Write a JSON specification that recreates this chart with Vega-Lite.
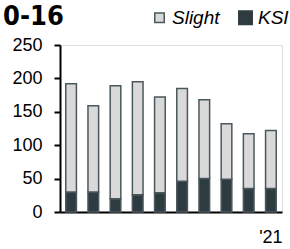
{
  "$schema": "https://vega.github.io/schema/vega-lite/v6.json",
  "width": 222,
  "height": 167,
  "autosize": {"type": "none"},
  "padding": {"left": 60, "top": 45, "right": 8, "bottom": 37},
  "background": "white",
  "title": {
    "text": "0-16",
    "anchor": "start",
    "frame": "group",
    "dx": -57,
    "offset": -44,
    "baseline": "alphabetic",
    "font": "DejaVu Sans Condensed",
    "fontWeight": "bold",
    "fontSize": 27,
    "color": "#000000"
  },
  "data": {
    "values": [
      {"year": 2012, "type": "KSI", "value": 30}, {"year": 2012, "type": "Slight", "value": 162},
      {"year": 2013, "type": "KSI", "value": 30}, {"year": 2013, "type": "Slight", "value": 129},
      {"year": 2014, "type": "KSI", "value": 20}, {"year": 2014, "type": "Slight", "value": 169},
      {"year": 2015, "type": "KSI", "value": 26}, {"year": 2015, "type": "Slight", "value": 169},
      {"year": 2016, "type": "KSI", "value": 29}, {"year": 2016, "type": "Slight", "value": 143},
      {"year": 2017, "type": "KSI", "value": 46}, {"year": 2017, "type": "Slight", "value": 139},
      {"year": 2018, "type": "KSI", "value": 50}, {"year": 2018, "type": "Slight", "value": 118},
      {"year": 2019, "type": "KSI", "value": 49}, {"year": 2019, "type": "Slight", "value": 83},
      {"year": 2020, "type": "KSI", "value": 35}, {"year": 2020, "type": "Slight", "value": 82},
      {"year": 2021, "type": "KSI", "value": 35}, {"year": 2021, "type": "Slight", "value": 87}
    ]
  },
  "mark": {"type": "bar", "stroke": "#4a585e", "strokeWidth": 1.5},
  "encoding": {
    "x": {
      "field": "year",
      "type": "ordinal",
      "scale": {"paddingInner": 0.52, "paddingOuter": 0.26},
      "axis": {
        "title": null,
        "labelExpr": "datum.value == 2021 ? \"'21\" : ''",
        "labelAngle": 0,
        "ticks": false,
        "domainColor": "#000000",
        "domainWidth": 2,
        "labelPadding": 16,
        "labelFont": "Liberation Sans",
        "labelFontSize": 18,
        "labelColor": "#000000"
      }
    },
    "y": {
      "field": "value",
      "type": "quantitative",
      "stack": "zero",
      "scale": {"domain": [0, 250]},
      "axis": {
        "title": null,
        "values": [0, 50, 100, 150, 200, 250],
        "grid": false,
        "ticks": true,
        "tickSize": 6,
        "tickWidth": 2,
        "tickColor": "#000000",
        "domainColor": "#000000",
        "domainWidth": 2,
        "labelPadding": 12,
        "labelFont": "Liberation Sans",
        "labelFontSize": 18,
        "labelColor": "#000000",
        "encode": {
          "ticks": {"update": {"opacity": {"signal": "datum.value == 250 || datum.value == 0 ? 1 : 0"}}}
        }
      }
    },
    "color": {
      "field": "type",
      "type": "nominal",
      "scale": {"domain": ["Slight", "KSI"], "range": ["#d9d9d9", "#2e3b40"]},
      "legend": {
        "title": null,
        "orient": "none",
        "legendX": 90,
        "legendY": -37,
        "direction": "horizontal",
        "symbolType": "square",
        "symbolSize": 100,
        "symbolStrokeColor": "#4a585e",
        "symbolStrokeWidth": 1.5,
        "labelFont": "Liberation Sans",
        "labelFontSize": 19,
        "labelFontStyle": "italic",
        "labelColor": "#000000",
        "columnPadding": 15,
        "labelOffset": 3,
        "encode": {
          "symbols": {"update": {
            "size": {"signal": "datum.label == 'KSI' ? 180 : 90"},
            "stroke": {"signal": "datum.label == 'KSI' ? '#2e3b40' : '#4a585e'"}
          }}
        }
      }
    },
    "order": {"field": "type", "sort": "ascending"}
  }
}
